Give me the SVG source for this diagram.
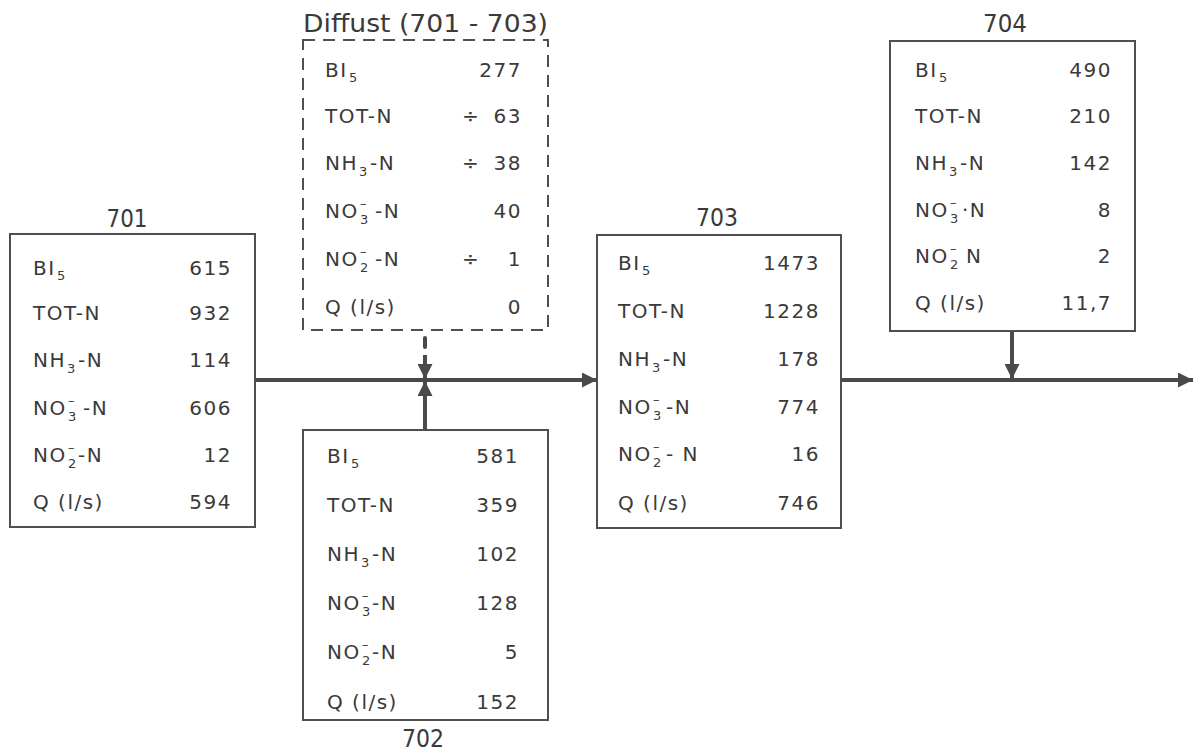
<svg xmlns="http://www.w3.org/2000/svg" width="1197" height="753" viewBox="0 0 1197 753">
<defs>
<style>
text{font-family:"DejaVu Sans","Liberation Sans",sans-serif;font-size:20px;fill:#3a3a3a;letter-spacing:1.5px}
.v{text-anchor:end}
.t{text-anchor:middle;font-size:24px;letter-spacing:0}
.ti{font-size:24px;letter-spacing:0}
.s{font-size:13px;letter-spacing:0}
.box{fill:#fff;stroke:#4f4f4f;stroke-width:2}
.dash{fill:#fff;stroke:#4f4f4f;stroke-width:2;stroke-dasharray:12 8}
.ln{stroke:#4a4a4a;stroke-width:4;fill:none}
</style>
<marker id="ah" viewBox="0 0 10 10" refX="10" refY="5" markerWidth="4" markerHeight="3.75" orient="auto" markerUnits="strokeWidth"><path d="M0,0 L10,5 L0,10 Z" fill="#4a4a4a"/></marker>
</defs>
<rect width="1197" height="753" fill="#fff"/>
<g id="connectors">
<line class="ln" x1="255" y1="380" x2="597" y2="380" marker-end="url(#ah)"/>
<line class="ln" x1="841" y1="380" x2="1193" y2="380" marker-end="url(#ah)"/>
<line class="ln" x1="425" y1="338" x2="425" y2="347" style="stroke-linecap:round"/>
<line class="ln" x1="425" y1="355" x2="425" y2="379" marker-end="url(#ah)"/>
<line class="ln" x1="425" y1="430" x2="425" y2="381" marker-end="url(#ah)"/>
<line class="ln" x1="1012" y1="331" x2="1012" y2="379" marker-end="url(#ah)"/>
</g>
<g id="n701">
<text class="t" x="127" y="227" textLength="41" lengthAdjust="spacingAndGlyphs">701</text>
<rect class="box" x="10" y="234" width="245" height="293"/>
<text x="33" y="275">BI</text><text class="s" x="57" y="280">5</text><text class="v" x="232" y="275">615</text>
<text x="33" y="320">TOT-N</text><text class="v" x="232" y="320">932</text>
<text x="33" y="367">NH</text><text class="s" x="67" y="373">3</text><text x="78" y="367">-N</text><text class="v" x="232" y="367">114</text>
<text x="33" y="415">NO</text><text class="s" x="68" y="421">3</text><text class="s" x="68" y="405">–</text><text x="83" y="415">-N</text><text class="v" x="232" y="415">606</text>
<text x="33" y="462">NO</text><text class="s" x="68" y="468">2</text><text class="s" x="68" y="452">–</text><text x="78" y="462">-N</text><text class="v" x="232" y="462">12</text>
<text x="33" y="509">Q (l/s)</text><text class="v" x="232" y="509">594</text>
</g>
<g id="diffust">
<text class="ti" x="303" y="32" textLength="245" lengthAdjust="spacingAndGlyphs">Diffust (701 - 703)</text>
<rect class="dash" x="303" y="40" width="245" height="290"/>
<text x="325" y="77">BI</text><text class="s" x="349" y="82">5</text><text class="v" x="522" y="77">277</text>
<text x="325" y="123">TOT-N</text><text x="462" y="123">÷</text><text class="v" x="522" y="123">63</text>
<text x="325" y="170">NH</text><text class="s" x="359" y="176">3</text><text x="370" y="170">-N</text><text x="462" y="170">÷</text><text class="v" x="522" y="170">38</text>
<text x="325" y="218">NO</text><text class="s" x="360" y="224">3</text><text class="s" x="360" y="208">–</text><text x="375" y="218">-N</text><text class="v" x="522" y="218">40</text>
<text x="325" y="266">NO</text><text class="s" x="360" y="272">2</text><text class="s" x="360" y="256">–</text><text x="375" y="266">-N</text><text x="462" y="266">÷</text><text class="v" x="522" y="266">1</text>
<text x="325" y="314">Q (l/s)</text><text class="v" x="522" y="314">0</text>
</g>
<g id="n702">
<rect class="box" x="303" y="430" width="245" height="290"/>
<text x="327" y="463">BI</text><text class="s" x="351" y="468">5</text><text class="v" x="519" y="463">581</text>
<text x="327" y="512">TOT-N</text><text class="v" x="519" y="512">359</text>
<text x="327" y="561">NH</text><text class="s" x="361" y="567">3</text><text x="372" y="561">-N</text><text class="v" x="519" y="561">102</text>
<text x="327" y="610">NO</text><text class="s" x="362" y="616">3</text><text class="s" x="362" y="600">–</text><text x="372" y="610">-N</text><text class="v" x="519" y="610">128</text>
<text x="327" y="659">NO</text><text class="s" x="362" y="665">2</text><text class="s" x="362" y="649">–</text><text x="372" y="659">-N</text><text class="v" x="519" y="659">5</text>
<text x="327" y="709">Q (l/s)</text><text class="v" x="519" y="709">152</text>
<text class="t" x="423" y="747" textLength="42" lengthAdjust="spacingAndGlyphs">702</text>
</g>
<g id="n703">
<text class="t" x="717" y="226" textLength="42" lengthAdjust="spacingAndGlyphs">703</text>
<rect class="box" x="597" y="235" width="244" height="293"/>
<text x="618" y="270">BI</text><text class="s" x="642" y="275">5</text><text class="v" x="820" y="270">1473</text>
<text x="618" y="318">TOT-N</text><text class="v" x="820" y="318">1228</text>
<text x="618" y="366">NH</text><text class="s" x="652" y="372">3</text><text x="663" y="366">-N</text><text class="v" x="820" y="366">178</text>
<text x="618" y="414">NO</text><text class="s" x="653" y="420">3</text><text class="s" x="653" y="404">–</text><text x="666" y="414">-N</text><text class="v" x="820" y="414">774</text>
<text x="618" y="461">NO</text><text class="s" x="653" y="467">2</text><text class="s" x="653" y="451">–</text><text x="666" y="461">- N</text><text class="v" x="820" y="461">16</text>
<text x="618" y="510">Q (l/s)</text><text class="v" x="820" y="510">746</text>
</g>
<g id="n704">
<text class="t" x="1005" y="32" textLength="44" lengthAdjust="spacingAndGlyphs">704</text>
<rect class="box" x="890" y="41" width="245" height="290"/>
<text x="915" y="77">BI</text><text class="s" x="939" y="82">5</text><text class="v" x="1112" y="77">490</text>
<text x="915" y="123">TOT-N</text><text class="v" x="1112" y="123">210</text>
<text x="915" y="170">NH</text><text class="s" x="949" y="176">3</text><text x="960" y="170">-N</text><text class="v" x="1112" y="170">142</text>
<text x="915" y="217">NO</text><text class="s" x="950" y="223">3</text><text class="s" x="950" y="207">–</text><text x="962" y="217">·N</text><text class="v" x="1112" y="217">8</text>
<text x="915" y="263">NO</text><text class="s" x="950" y="269">2</text><text class="s" x="950" y="253">–</text><text x="966" y="263">N</text><text class="v" x="1112" y="263">2</text>
<text x="915" y="310">Q (l/s)</text><text class="v" x="1112" y="310">11,7</text>
</g>
</svg>
